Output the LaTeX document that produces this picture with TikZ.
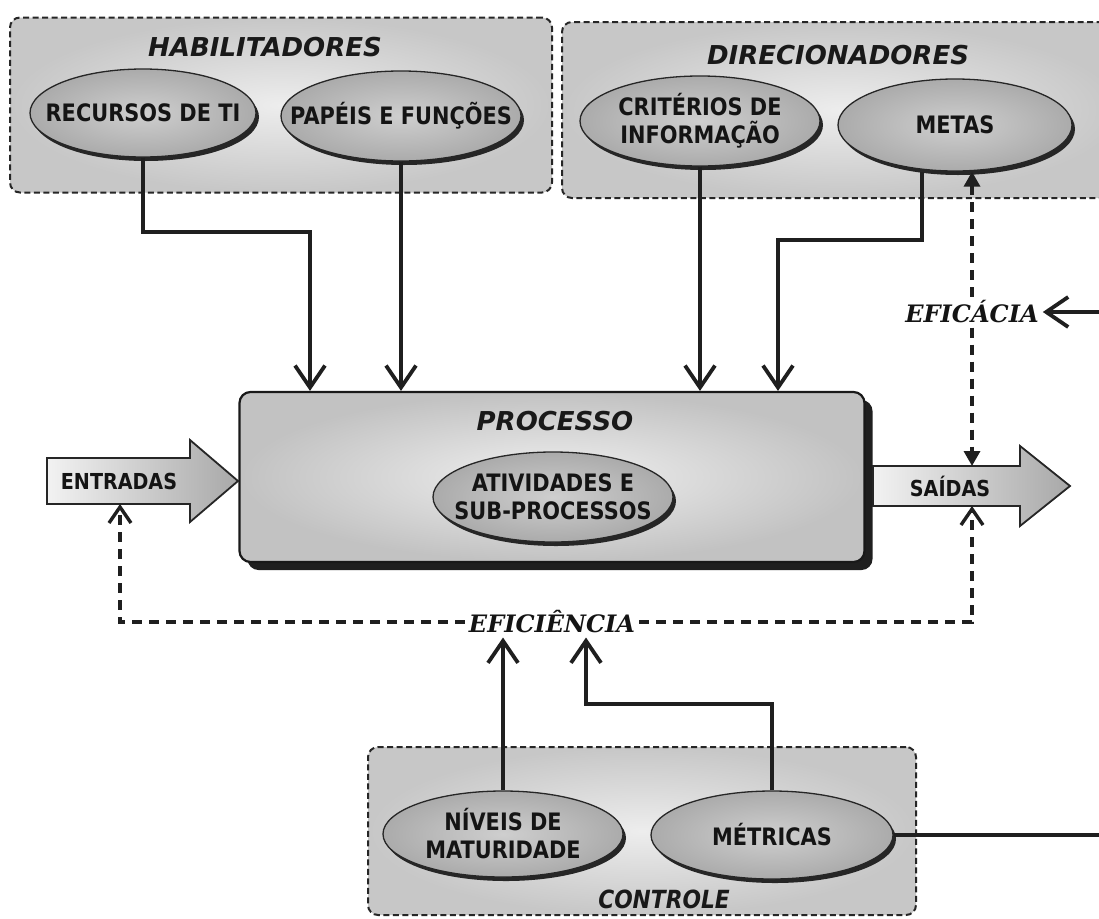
\documentclass[tikz,border=0pt]{standalone}
\usepackage{fontspec}
\setmainfont{DejaVu Sans}
\newfontfamily\narrowsans{DejaVu Sans}[FakeStretch=0.87]
\newfontfamily\serifbi{DejaVu Serif}
\usetikzlibrary{arrows.meta,shapes.geometric,shadows}

\tikzset{
  grp/.style={draw=black!85, line width=2pt, dash pattern=on 6pt off 3.5pt,
    rounded corners=10pt, inner color=gray!14, outer color=gray!44},
  oval/.style={ellipse, draw=black!85, line width=1.3pt, inner sep=0pt,
    inner color=gray!38, outer color=gray!66,
    drop shadow={shadow xshift=3pt, shadow yshift=-4pt, opacity=1, fill=black!85}},
  ovaltext/.style={align=center, text=black!92, inner sep=0pt,
    font=\narrowsans\fontsize{24}{28}\selectfont\bfseries},
  ttl/.style={font=\fontsize{26}{30}\selectfont\bfseries\itshape, text=black!90, inner sep=2pt},
  eff/.style={font=\serifbi\fontsize{24}{28}\selectfont\bfseries\itshape, text=black!92,
    fill=white, inner sep=4pt},
  lbl/.style={font=\narrowsans\fontsize{22}{24}\selectfont\bfseries, text=black!92, inner sep=1pt},
  procbox/.style={draw=black!90, line width=2.2pt, rounded corners=11pt,
    inner color=gray!12, outer color=gray!48,
    drop shadow={shadow xshift=8pt, shadow yshift=-8pt, opacity=1, fill=black!88}},
  bigarrow/.style={draw=black!85, line width=1.8pt, left color=gray!10, right color=gray!68},
  conn/.style={draw=black!88, line width=3.8pt,
    -{Straight Barb[length=22pt,width=30pt]}},
  plain/.style={draw=black!88, line width=3.8pt},
  dline/.style={draw=black!88, line width=3.4pt, dash pattern=on 10pt off 7pt},
  solidtip/.style={-{Triangle[length=15pt,width=16pt]}},
  opentip/.style={-{Straight Barb[length=16pt,width=22pt]}}
}

\begin{document}
\begin{tikzpicture}[x=1pt,y=-1pt]
\useasboundingbox (0,0) rectangle (1099,918);
\clip (0,0) rectangle (1099,918);
\fill[white] (0,0) rectangle (1099,918);

% group panels
\node[grp, minimum width=542, minimum height=175] (habbox) at (281,105) {};
\node[grp, minimum width=560, minimum height=176] (dirbox) at (842,110) {};
\node[grp, minimum width=548, minimum height=168] (ctlbox) at (642,831) {};

\node[ttl] (habttl) at (265,47) {HABILITADORES};
\node[ttl] (dirttl) at (838,55) {DIRECIONADORES};
\node[font=\narrowsans\fontsize{25}{28}\selectfont\itshape\bfseries, text=black!90] (ctlttl) at (664,899) {CONTROLE};

% process block
\node[procbox, minimum width=625, minimum height=170] (proc) at (552,477) {};
\node[ttl] (procttl) at (555,421) {PROCESSO};

% input and output arrows
\path[bigarrow] (47,458) -- (190,458) -- (190,440) -- (238,481) -- (190,522)
  -- (190,504) -- (47,504) -- cycle;
\node[lbl] (ent) at (119,481) {ENTRADAS};
\coordinate (entb) at (120,504);

\path[bigarrow] (873,466) -- (1020,466) -- (1020,446) -- (1070,486) -- (1020,526)
  -- (1020,506) -- (873,506) -- cycle;
\node[lbl] (sai) at (950,486) {SAÍDAS};
\coordinate (saitop) at (972,466);
\coordinate (saibot) at (972,506);

% ellipses and their texts
\node[oval, minimum width=226, minimum height=88] (rec) at (143,113) {};
\node[ovaltext] (rect) at (rec.center) {RECURSOS DE TI};
\node[oval, minimum width=240, minimum height=90] (pap) at (401,116) {};
\node[ovaltext] (papt) at (pap.center) {PAPÉIS E FUNÇÕES};
\node[oval, minimum width=240, minimum height=90] (cri) at (700,121) {};
\node[ovaltext] (crit) at (cri.center) {CRITÉRIOS DE\\INFORMAÇÃO};
\node[oval, minimum width=234, minimum height=92] (met) at (955,125) {};
\node[ovaltext] (mett) at (met.center) {METAS};
\node[oval, minimum width=240, minimum height=90] (atv) at (553,497) {};
\node[ovaltext] (atvt) at (atv.center) {ATIVIDADES E\\SUB-PROCESSOS};
\node[oval, minimum width=240, minimum height=86] (niv) at (503,834) {};
\node[ovaltext] (nivt) at (niv.center) {NÍVEIS DE\\MATURIDADE};
\node[oval, minimum width=242, minimum height=88] (mtr) at (772,835) {};
\node[ovaltext] (mtrt) at (mtr.center) {MÉTRICAS};

% labels on the feedback lines
\node[eff] (efc) at (972,312) {EFICÁCIA};
\node[eff] (efi) at (552,622) {EFICIÊNCIA};

% enablers and drivers into the process
\coordinate (h1) at (310,232);
\draw[conn] (rec.south) |- (h1) -- (h1 |- proc.north);
\draw[conn] (pap.south) -- (pap.south |- proc.north);
\draw[conn] (cri.south) -- (cri.south |- proc.north);
\coordinate (m1) at (922,240);
\coordinate (m2) at (778,240);
\draw[conn] (met.south -| m1) -- (m1) -- (m2) -- (m2 |- proc.north);

% effectiveness
\draw[dline, solidtip] (efc.north) -- (efc.north |- met.south);
\draw[dline, solidtip] (efc.south) -- (saitop);
\coordinate (rt) at (1099,312);
\draw[conn] (rt) -- (efc.east);

% efficiency
\draw[dline, opentip] (efi.west) -| (entb);
\draw[dline, opentip] (efi.east) -| (saibot);
\draw[conn] (niv.north) -- (niv.north |- efi.south);
\coordinate (c1) at (586,704);
\draw[conn] (mtr.north) |- (c1) -- (c1 |- efi.south);

% metrics leaving to the right
\coordinate (rb) at (1099,835);
\draw[plain] (mtr.east) -- (rb);
\end{tikzpicture}
\end{document}
